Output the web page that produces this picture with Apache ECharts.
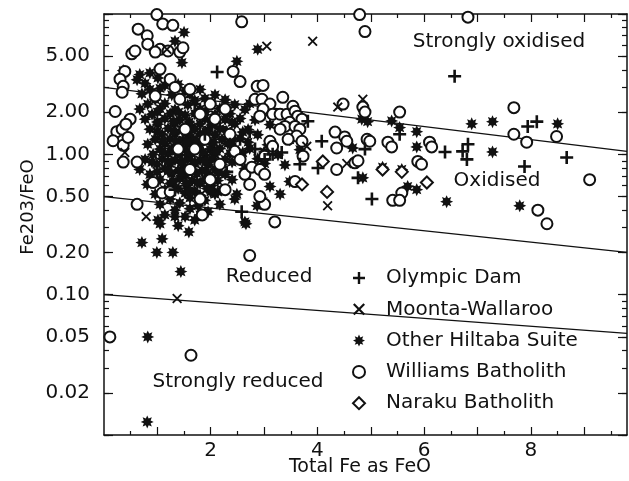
<!DOCTYPE html>
<html>
<head>
<meta charset="utf-8">
<script src="https://cdn.jsdelivr.net/npm/echarts@6/dist/echarts.min.js"></script>
<style>
  html, body { margin: 0; padding: 0; background: #fff; }
  #chart { width: 629px; height: 481px; }
</style>
</head>
<body>
<div id="chart"></div>
<script>
// legend order
const seriesNames = ['Olympic Dam', 'Moonta-Wallaroo', 'Other Hiltaba Suite', 'Williams Batholith', 'Naraku Batholith']

// [Total Fe as FeO, Fe2O3/FeO]
const olympicDam = [
  [2.12, 3.86], [6.57, 3.6], [3.82, 1.72], [4.08, 1.24], [4.89, 1.09], [4.01, 0.80],
  [5.54, 1.39], [7.94, 1.58], [8.11, 1.71], [8.67, 0.95], [7.88, 0.82], [6.82, 1.18],
  [6.72, 1.05], [6.80, 0.92], [6.39, 1.04], [5.02, 0.48], [2.58, 0.39], [2.55, 1.28],
  [2.73, 1.44], [2.36, 1.18], [2.83, 1.09], [2.17, 1.56], [3.01, 0.92], [1.52, 0.92],
  [1.33, 0.56], [2.30, 0.75], [3.16, 1.00], [3.33, 1.03], [4.76, 0.68], [3.67, 0.85],
  [1.89, 1.39], [1.70, 2.28]
]
const moontaWallaroo = [
  [1.18, 5.6], [3.05, 5.9], [3.91, 6.4], [4.85, 2.47], [4.38, 2.17], [0.39, 1.03],
  [0.79, 0.36], [1.37, 0.094], [3.80, 1.14], [4.55, 0.86], [4.19, 0.43]
]
const otherHiltaba = [
  // scattered
  [1.33, 6.4], [1.50, 7.4], [1.46, 4.5], [2.88, 5.6], [2.49, 4.6], [0.36, 3.95],
  [4.66, 1.11], [4.83, 1.78], [4.94, 1.71], [5.39, 1.73], [5.54, 1.55], [5.86, 1.45],
  [6.89, 1.65], [7.28, 1.71], [8.50, 1.65], [7.28, 1.04], [5.86, 1.13], [4.85, 0.68],
  [5.22, 0.81], [5.58, 0.78], [5.69, 0.59], [5.86, 0.56], [6.42, 0.46], [7.79, 0.43],
  [4.74, 0.89], [0.71, 0.235], [1.09, 0.25], [0.99, 0.20], [1.29, 0.20], [1.59, 0.28],
  [1.44, 0.146], [2.66, 0.32], [0.82, 0.05], [0.81, 0.0124], [2.13, 0.54], [2.17, 0.44],
  [2.49, 0.52], [2.45, 0.48], [2.64, 0.33], [2.87, 0.43], [2.98, 0.46], [3.30, 0.52],
  [3.11, 0.59], [3.48, 0.64], [1.39, 0.31], [1.05, 0.32], [1.33, 0.36],
  // main cluster
  [0.67, 3.7], [0.86, 3.8], [0.62, 3.4], [1.01, 3.5], [1.24, 3.35],
  [0.77, 3.2], [1.14, 3.1], [1.39, 3.15],
  [0.86, 2.9], [1.05, 2.95], [1.52, 2.85], [1.80, 2.9],
  [0.71, 2.7], [1.27, 2.65], [1.61, 2.7], [2.08, 2.65],
  [0.96, 2.45], [1.42, 2.5], [1.70, 2.42], [1.89, 2.5], [2.27, 2.45],
  [0.82, 2.28], [1.14, 2.3], [1.57, 2.25], [1.99, 2.3], [2.45, 2.26], [2.73, 2.3],
  [0.67, 2.1], [1.05, 2.12], [1.33, 2.08], [1.80, 2.1], [2.17, 2.12], [2.64, 2.08],
  [0.90, 1.93], [1.24, 1.95], [1.52, 1.9], [1.70, 1.95], [2.08, 1.92], [2.36, 1.95], [2.96, 1.9],
  [0.77, 1.78], [1.14, 1.8], [1.42, 1.76], [1.89, 1.8], [2.27, 1.77], [2.55, 1.8], [2.83, 1.76],
  [1.01, 1.64], [1.33, 1.66], [1.61, 1.62], [1.80, 1.65], [2.02, 1.62], [2.45, 1.65], [3.11, 1.63],
  [0.86, 1.51], [1.20, 1.53], [1.46, 1.5], [1.70, 1.52], [1.95, 1.49], [2.17, 1.52], [2.70, 1.5], [3.30, 1.52],
  [1.09, 1.39], [1.33, 1.4], [1.57, 1.37], [1.80, 1.4], [2.08, 1.38], [2.36, 1.4], [2.88, 1.38],
  [0.96, 1.28], [1.24, 1.29], [1.48, 1.27], [1.67, 1.29], [1.89, 1.27], [2.21, 1.28], [2.55, 1.3], [3.48, 1.27],
  [0.82, 1.18], [1.14, 1.19], [1.39, 1.17], [1.61, 1.19], [1.80, 1.17], [2.02, 1.18], [2.32, 1.19], [3.07, 1.17],
  [1.05, 1.09], [1.27, 1.1], [1.52, 1.08], [1.74, 1.1], [1.99, 1.08], [2.17, 1.1], [2.45, 1.08], [2.73, 1.1], [3.67, 1.08],
  [0.92, 1.0], [1.20, 1.01], [1.42, 0.99], [1.65, 1.01], [1.89, 0.99], [2.08, 1.0], [2.36, 1.01], [3.26, 0.99],
  [0.77, 0.92], [1.09, 0.93], [1.33, 0.91], [1.57, 0.93], [1.80, 0.91], [2.02, 0.93], [2.27, 0.92], [2.55, 0.91], [2.88, 0.93],
  [0.99, 0.85], [1.24, 0.86], [1.48, 0.84], [1.70, 0.86], [1.95, 0.84], [2.21, 0.85], [3.01, 0.86], [3.39, 0.84],
  [0.67, 0.78], [1.14, 0.79], [1.39, 0.77], [1.61, 0.79], [1.84, 0.77], [2.08, 0.78], [2.64, 0.79],
  [0.86, 0.72], [1.27, 0.73], [1.52, 0.71], [1.74, 0.73], [1.99, 0.71], [2.27, 0.72],
  [1.05, 0.66], [1.42, 0.67], [1.65, 0.65], [1.89, 0.67], [2.13, 0.65], [2.40, 0.66],
  [0.81, 0.61], [1.24, 0.62], [1.55, 0.6], [1.80, 0.62], [2.02, 0.6],
  [1.14, 0.56], [1.39, 0.57], [1.70, 0.55], [1.93, 0.57], [2.21, 0.56],
  [0.96, 0.52], [1.52, 0.53], [1.80, 0.51], [2.08, 0.52],
  [1.24, 0.48], [1.61, 0.49], [1.89, 0.47],
  [1.05, 0.44], [1.42, 0.45], [1.76, 0.43],
  [1.33, 0.40], [1.61, 0.41], [1.95, 0.39],
  [1.14, 0.37], [1.52, 0.36], [1.80, 0.37],
  [1.01, 0.34], [1.70, 0.34],
  // cluster core, in between
  [1.0, 2.0], [1.4, 2.0], [1.9, 2.02], [2.3, 1.98],
  [1.0, 1.7], [1.3, 1.72], [1.6, 1.7], [2.0, 1.71], [2.4, 1.69],
  [1.0, 1.45], [1.3, 1.46], [1.6, 1.44], [1.9, 1.45], [2.3, 1.46], [2.6, 1.44],
  [1.1, 1.23], [1.35, 1.24], [1.55, 1.22], [1.75, 1.23], [2.05, 1.22], [2.4, 1.24], [2.7, 1.22],
  [1.1, 1.04], [1.35, 1.05], [1.6, 1.03], [1.85, 1.04], [2.1, 1.05], [2.6, 1.03], [3.0, 1.04],
  [0.9, 0.88], [1.2, 0.89], [1.45, 0.87], [1.7, 0.88], [1.9, 0.89], [2.15, 0.87], [2.4, 0.88],
  [1.0, 0.75], [1.2, 0.76], [1.45, 0.74], [1.65, 0.75], [1.9, 0.76], [2.15, 0.74],
  [0.95, 0.63], [1.3, 0.64], [1.55, 0.62], [1.75, 0.63], [2.0, 0.64],
  [1.25, 0.54], [1.6, 0.55], [2.0, 0.54]
]
const williamsBatholith = [
  [0.99, 9.9], [1.10, 8.5], [1.29, 8.3], [0.64, 7.8], [0.81, 7.0], [0.82, 6.1],
  [1.05, 5.6], [0.96, 5.35], [1.20, 5.45], [1.42, 5.35], [1.48, 5.75], [0.52, 5.2],
  [0.58, 5.45], [1.05, 4.05], [0.39, 3.9], [0.30, 3.43], [0.36, 3.05], [0.34, 2.77],
  [0.21, 2.02], [0.24, 1.45], [0.34, 1.51], [0.17, 1.25], [0.36, 1.16], [0.45, 1.32],
  [0.36, 0.88], [0.62, 0.88], [0.92, 0.63], [1.09, 0.53], [1.24, 0.54], [0.62, 0.44],
  [0.49, 1.78], [0.41, 1.64], [1.24, 3.43], [1.33, 3.0], [0.96, 2.6], [1.42, 2.47],
  [1.61, 2.91], [1.80, 1.93], [1.99, 2.28], [1.52, 1.51], [1.70, 1.09], [1.89, 1.28],
  [2.08, 1.78], [2.27, 2.10], [2.36, 1.39], [2.45, 1.05], [2.17, 0.85], [1.99, 0.66],
  [1.80, 0.48], [2.27, 0.56], [2.55, 0.92], [2.64, 0.72], [2.73, 0.61], [1.61, 0.78],
  [1.39, 1.09], [2.42, 3.9], [2.55, 3.3], [2.58, 8.8], [2.87, 3.05], [2.98, 3.1],
  [2.83, 2.47], [2.96, 2.47], [3.11, 2.28], [2.98, 2.10], [2.92, 1.87], [3.16, 1.93],
  [3.30, 1.93], [3.43, 1.93], [3.54, 2.2], [3.58, 2.03], [3.63, 1.87], [3.71, 1.78],
  [3.48, 1.69], [3.39, 1.58], [3.58, 1.58], [3.30, 1.51], [3.67, 1.51], [3.61, 1.35],
  [3.45, 1.28], [3.71, 1.24], [3.11, 1.24], [3.16, 1.14], [3.01, 0.97], [3.35, 2.55],
  [3.73, 0.97], [2.77, 0.81], [2.92, 0.78], [3.01, 0.72], [3.01, 0.44], [2.92, 0.50],
  [3.20, 0.33], [2.73, 0.19], [3.58, 0.64], [1.63, 0.037], [4.33, 1.44], [4.51, 1.33],
  [4.55, 1.24], [4.36, 1.11], [4.36, 0.78], [4.48, 2.28], [4.85, 2.17], [4.89, 2.0],
  [4.93, 1.28], [5.54, 2.0], [7.68, 2.15], [7.68, 1.39], [8.48, 1.34], [7.92, 1.22],
  [9.10, 0.66], [6.10, 1.22], [6.14, 1.13], [5.32, 1.22], [5.39, 1.13], [4.98, 1.24],
  [4.70, 0.87], [4.76, 0.90], [5.88, 0.89], [5.95, 0.85], [5.58, 0.53], [5.41, 0.47],
  [5.54, 0.47], [8.13, 0.40], [8.30, 0.32], [4.79, 9.9], [4.89, 7.5], [6.82, 9.5],
  [0.11, 0.05], [1.84, 0.37]
]
const narakuBatholith = [
  [4.10, 0.89], [4.18, 0.54], [5.22, 0.78], [5.58, 0.75], [6.05, 0.63], [3.71, 0.61]
]

// redox boundary lines (end points)
const strongOxLine = [[0, 3.0], [9.8, 1.05]]
const oxLine = [[0, 0.5], [9.8, 0.2]]
const redLine = [[0, 0.1], [9.8, 0.053]]

const yLabels = [0.02, 0.05, 0.1, 0.2, 0.5, 1, 2, 5]
const xLabels = [2, 4, 6, 8]

// log minor ticks 1..9 per decade
const yMinorTicks = []
for (let d = -2; d <= 0; d++) {
  for (let k = 1; k <= 9; k++) yMinorTicks.push(+(k * Math.pow(10, d)).toPrecision(3))
}
yMinorTicks.push(10)
const yMajorTicks = [0.01, 0.02, 0.05, 0.1, 0.2, 0.5, 1, 2, 5, 10]
const xMajorTicks = [1, 2, 3, 4, 5, 6, 7, 8, 9]
const xMinorTicks = [0.5, 1.5, 2.5, 3.5, 4.5, 5.5, 6.5, 7.5, 8.5, 9.5]

const FONT = 'DejaVu Sans'
const INK = '#111'

const plusPath = 'path://M40,0H60V40H100V60H60V100H40V60H0V40H40Z'
const crossPath = 'path://M0,13L13,0L50,37L87,0L100,13L63,50L100,87L87,100L50,63L13,100L0,87L37,50Z'
const starPath = 'path://M50,0L61,24L85.4,14.6L76,39L100,50L76,61L85.4,85.4L61,76L50,100L39,76L14.6,85.4L24,61L0,50L24,39L14.6,14.6L39,24Z'
const diamondPath = 'path://M50,0L100,50L50,100L0,50Z'

const chart = echarts.init(document.getElementById('chart'))

function xAx (pos, ticks, len, labels) {
  return {
    type: 'value', position: pos, min: 0, max: 9.8,
    axisLine: { show: labels !== null, onZero: false, lineStyle: { color: INK, width: 1.5 } },
    axisTick: { inside: true, length: len, customValues: ticks, lineStyle: { color: INK, width: 1.2 } },
    axisLabel: labels ? { customValues: labels, fontSize: 20, fontFamily: FONT, color: INK, margin: 6 } : { show: false },
    splitLine: { show: false }
  }
}
function yAx (pos, ticks, len, labels) {
  return {
    type: 'log', logBase: 10, position: pos, min: 0.01, max: 10,
    axisLine: { show: labels !== null, onZero: false, lineStyle: { color: INK, width: 1.5 } },
    axisTick: { inside: true, length: len, customValues: ticks, lineStyle: { color: INK, width: 1.2 } },
    axisLabel: labels ? {
      customValues: labels, fontSize: 20, fontFamily: FONT, color: INK, margin: 14,
      formatter: v => Number(v).toFixed(2)
    } : { show: false },
    splitLine: { show: false }
  }
}

function boundary (data) {
  return {
    type: 'line', data: data, symbol: 'none', silent: true, z: 1,
    lineStyle: { color: INK, width: 1.4 }
  }
}

chart.setOption({
  animation: false,
  backgroundColor: '#fff',
  grid: { left: 104, right: 2, top: 14, bottom: 46 },
  xAxis: [
    xAx('bottom', xMajorTicks, 8, xLabels),
    xAx('bottom', xMinorTicks, 4, null),
    xAx('top', xMajorTicks, 8, false),
    xAx('top', xMinorTicks, 4, null)
  ],
  yAxis: [
    yAx('left', yMinorTicks, 5, yLabels),
    yAx('left', yMajorTicks, 9, null),
    yAx('right', yMinorTicks, 5, false),
    yAx('right', yMajorTicks, 9, null)
  ],
  legend: {
    orient: 'vertical', left: 347, top: 263,
    itemWidth: 44, itemHeight: 12, itemGap: 11.3,
    selectedMode: false,
    data: seriesNames,
    textStyle: { fontSize: 20, fontFamily: FONT, color: INK, lineHeight: 20 }
  },
  series: [
    boundary(strongOxLine),
    boundary(oxLine),
    boundary(redLine),
    {
      name: 'Other Hiltaba Suite', type: 'scatter', data: otherHiltaba,
      symbol: starPath, symbolSize: 13, itemStyle: { color: INK, opacity: 1 }
    },
    {
      name: 'Williams Batholith', type: 'scatter', data: williamsBatholith,
      symbol: 'circle', symbolSize: 11,
      itemStyle: { color: '#fff', borderColor: INK, borderWidth: 2, opacity: 1 }
    },
    {
      name: 'Olympic Dam', type: 'scatter', data: olympicDam,
      symbol: plusPath, symbolSize: 13, itemStyle: { color: INK, opacity: 1 }
    },
    {
      name: 'Moonta-Wallaroo', type: 'scatter', data: moontaWallaroo,
      symbol: crossPath, symbolSize: 10, itemStyle: { color: INK, opacity: 1 }
    },
    {
      name: 'Naraku Batholith', type: 'scatter', data: narakuBatholith,
      symbol: diamondPath, symbolSize: 12,
      itemStyle: { color: '#fff', borderColor: INK, borderWidth: 2, opacity: 1 }
    }
  ],
  graphic: [
    {
      type: 'text', x: 28, y: 207, rotation: Math.PI / 2,
      style: { text: 'Fe203/FeO', fontSize: 18, fontFamily: FONT, fill: INK, align: 'center', verticalAlign: 'middle' }
    },
    {
      type: 'text', x: 360, y: 467,
      style: { text: 'Total Fe as FeO', fontSize: 19, fontFamily: FONT, fill: INK, align: 'center', verticalAlign: 'middle' }
    },
    {
      type: 'text', x: 499, y: 42,
      style: { text: 'Strongly oxidised', fontSize: 20, fontFamily: FONT, fill: INK, align: 'center', verticalAlign: 'middle' }
    },
    {
      type: 'text', x: 497, y: 181,
      style: { text: 'Oxidised', fontSize: 20, fontFamily: FONT, fill: INK, align: 'center', verticalAlign: 'middle' }
    },
    {
      type: 'text', x: 269, y: 277,
      style: { text: 'Reduced', fontSize: 20, fontFamily: FONT, fill: INK, align: 'center', verticalAlign: 'middle' }
    },
    {
      type: 'text', x: 238, y: 382,
      style: { text: 'Strongly reduced', fontSize: 20, fontFamily: FONT, fill: INK, align: 'center', verticalAlign: 'middle' }
    }
  ]
})
</script>
</body>
</html>
